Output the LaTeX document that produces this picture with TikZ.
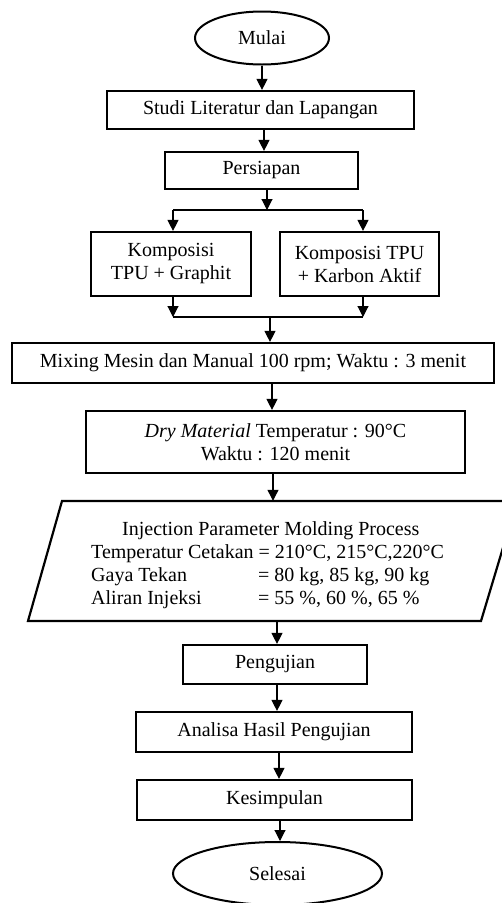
\documentclass[tikz,border=0pt]{standalone}
\usepackage{fontspec}
\setmainfont{Liberation Serif}
\usetikzlibrary{shapes.geometric,arrows.meta}
\begin{document}
\begin{tikzpicture}[x=1pt,y=-1pt,
  every node/.style={font=\fontsize{20}{23}\selectfont, inner sep=0pt},
  box/.style={draw, line width=2.2pt, rectangle, align=center},
  oval/.style={draw, line width=2pt, ellipse},
  ln/.style={line width=1.1pt},
  arr/.style={line width=1.1pt, -{Triangle[length=11pt,width=11pt]}}]
\clip (0,0) rectangle (502,903);
\fill[white] (0,0) rectangle (502,903);

\node[oval, minimum width=134pt, minimum height=53pt] (mulai) at (262,38) {Mulai};
\node[box, minimum width=307pt, minimum height=38pt] (studi) at (260.5,110) {Studi Literatur dan Lapangan};
\node[box, minimum width=193pt, minimum height=37pt] (persiapan) at (261.5,170.5) {Persiapan};
\node[box, minimum width=160pt, minimum height=64pt] (kiri) at (171,264) {Komposisi\\TPU + Graphit};
\node[box, minimum width=159pt, minimum height=64pt] (kanan) at (359.5,264) {Komposisi TPU\\+ Karbon Aktif};
\node[box, minimum width=482pt, minimum height=40pt] (mixing) at (253,363) {Mixing Mesin dan Manual 100 rpm; Waktu : 3 menit};
\node[box, minimum width=379pt, minimum height=62pt] (dry) at (275.5,442) {\textit{Dry Material} Temperatur : 90°C\\Waktu : 120 menit};

\draw[line width=2.2pt, line join=miter] (62,501) -- (517,501) -- (481,621) -- (28,621) -- cycle;
\node[minimum width=400pt, minimum height=120pt] (inj) at (272,561) {};
\node[align=left, anchor=north west] (injtext) at (91,521) {\hspace*{31pt}Injection Parameter Molding Process\\
Temperatur Cetakan = 210°C, 215°C,220°C\\
\makebox[167pt][l]{Gaya Tekan}= 80 kg, 85 kg, 90 kg\\
\makebox[167pt][l]{Aliran Injeksi}= 55 \%, 60 \%, 65 \%};

\node[box, minimum width=184pt, minimum height=39pt] (uji) at (275,664.5) {Pengujian};
\node[box, minimum width=276pt, minimum height=40pt] (analisa) at (274,732) {Analisa Hasil Pengujian};
\node[box, minimum width=275pt, minimum height=40pt] (kesimpulan) at (274.5,800) {Kesimpulan};
\node[oval, minimum width=209pt, minimum height=63pt] (selesai) at (277.5,873.5) {Selesai};

\coordinate (split) at (267,210);
\coordinate (sl) at (173,210);
\coordinate (sr) at (363,210);
\coordinate (jl) at (173,317);
\coordinate (jr) at (363,317);
\coordinate (jm) at (270,317);

\draw[arr] (mulai.south -| 262,0) -- (studi.north -| 262,0);
\draw[arr] (studi.south -| 264,0) -- (persiapan.north -| 264,0);
\draw[arr] (persiapan.south -| split) -- (split);
\draw[ln] (sl) -- (sr);
\draw[arr] (sl) -- (kiri.north -| sl);
\draw[arr] (sr) -- (kanan.north -| sr);
\draw[arr] (kiri.south -| jl) -- (jl);
\draw[arr] (kanan.south -| jr) -- (jr);
\draw[ln] (jl) -- (jr);
\draw[arr] (jm) -- (mixing.north -| jm);
\draw[arr] (mixing.south -| 272,0) -- (dry.north -| 272,0);
\draw[arr] (dry.south -| 273,0) -- (inj.north -| 273,0);
\draw[arr] (inj.south -| 277,0) -- (uji.north -| 277,0);
\draw[arr] (uji.south -| 277,0) -- (analisa.north -| 277,0);
\draw[arr] (analisa.south -| 279,0) -- (kesimpulan.north -| 279,0);
\draw[arr] (kesimpulan.south -| 280,0) -- (selesai.north -| 280,0);
\end{tikzpicture}
\end{document}
